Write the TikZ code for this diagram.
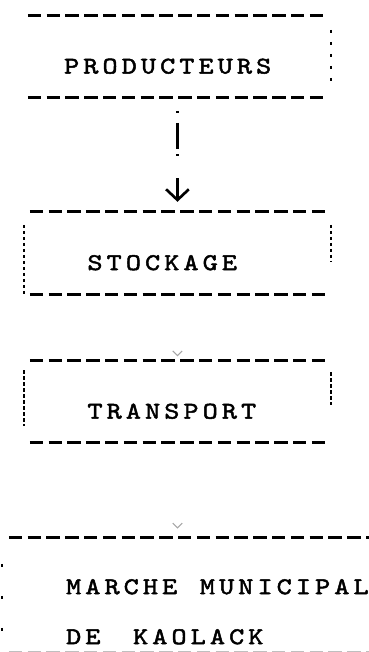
\documentclass[tikz,border=0pt]{standalone}
\usepackage{fontspec}
\newfontfamily\typew{lmmono10-regular}[Extension=.otf, LetterSpace=17, FakeStretch=1.2, FakeBold=2]
\newcommand\boxfont{\typew\fontsize{18pt}{37.5pt}\selectfont}
\newcommand\gap[1][17pt]{\hspace{#1}}
\usetikzlibrary{positioning, arrows.meta}

\begin{document}
\begin{tikzpicture}[
  box/.style={rectangle, minimum width=230pt, minimum height=61.5pt, text width=135pt, align=left,
    inner xsep=47.25pt, inner ysep=0pt, text height=25.5pt, text depth=0pt, font=\boxfont},
  hyph/.style={line width=2.2pt, dash pattern=on 10pt off 4.1pt},
  side/.style={line width=1.3pt, dash pattern=on 2.5pt off 2pt},
  flow/.style={line width=2pt, -{Straight Barb[length=8pt, width=17pt, line width=2pt]}},
  faded/.style={draw=black!35, line width=0.8pt, dash pattern=on 0pt off 200pt, -{Straight Barb[length=3.5pt, width=7pt]}}
]
\useasboundingbox (0,0) rectangle (276pt,-489pt);
% Chain
\node[box, inner xsep=30pt, text width=170pt] (prod) at (133.1pt,-42.4pt) {PRODUCTEURS};
\node[box, below=85.5pt of prod] (stock) {STOCKAGE};
\node[box, below=49.5pt of stock] (trans) {TRANSPORT};
\node[box, below=71.25pt of trans.south west, anchor=north west, xshift=-16.5pt,
  minimum height=84pt, text width=250pt, inner xsep=48pt, text height=42pt, text depth=42pt] (market)
  {MARCHE\gap MUNICIPAL\\DE\gap[24.5pt]KAOLACK};
% Frames
\draw[hyph] ([xshift=3pt]prod.north west) -- ([xshift=-2.5pt]prod.north east);
\draw[hyph] ([xshift=3pt]prod.south west) -- ([xshift=-2.5pt]prod.south east);
\draw[side, dash pattern=on 2pt off 7pt] ([yshift=-11pt]prod.north east) -- ([yshift=8pt]prod.south east);
\foreach \b in {stock, trans} {
  \draw[hyph] ([xshift=4.5pt]\b.north west) -- ([xshift=-0.5pt]\b.north east);
  \draw[hyph] ([xshift=4.5pt]\b.south west) -- ([xshift=-0.5pt]\b.south east);
}
\draw[side] ([yshift=-9.75pt]stock.north west) -- (stock.south west);
\draw[side] ([yshift=-9.75pt]stock.north east) -- ([yshift=-37.5pt]stock.north east);
\draw[side] ([yshift=-7.5pt]trans.north west) -- ([yshift=12.75pt]trans.south west);
\draw[side] ([yshift=-9pt]trans.north east) -- ([yshift=-33.75pt]trans.north east);
\draw[hyph] ([xshift=5.25pt]market.north west) -- (market.north east);
\draw[hyph, draw=black!25, line width=1.5pt] ([xshift=5.25pt,yshift=-1pt]market.south west) -- ([yshift=-1pt]market.south east);
\draw[side, dash pattern=on 2.5pt off 21.5pt] ([yshift=-19.5pt]market.north west) -- ([yshift=13.5pt]market.south west);
% Arrows
\draw[flow, dash pattern=on 1.5pt off 7.5pt on 20pt off 3.75pt on 1.5pt off 16.5pt on 17.25pt,
  shorten <=9.75pt, shorten >=7.5pt] (prod) -- (stock);
\draw[faded, shorten >=3pt] (stock) -- (trans);
\draw[faded, shorten >=7pt] (trans) -- (trans |- market.north);
\end{tikzpicture}
\end{document}
